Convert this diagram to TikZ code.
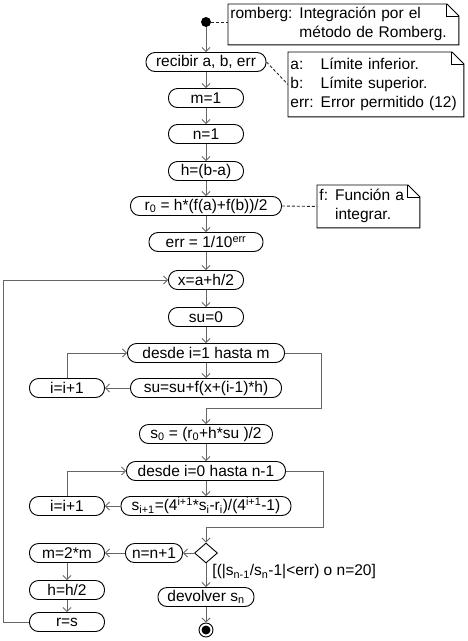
\documentclass[tikz,border=0pt]{standalone}
\usepackage{fontspec}
\setmainfont{Liberation Sans}
\usetikzlibrary{arrows.meta,shapes.geometric}

\tikzset{
  act/.style={draw, rounded corners=9pt, fill=white, minimum height=19pt, inner sep=1pt},
  flow/.style={draw=black!60, -{Straight Barb[length=4pt,width=8pt]}},
  link/.style={draw=black!85, dash pattern=on 3pt off 2pt},
  note/.style={fill=white, anchor=north west, inner xsep=2pt, inner ysep=1pt, align=left},
}
\newcommand\foldnote[1]{%
  \draw (#1.north west) -- ([xshift=-12pt]#1.north east) -- ([yshift=-12pt]#1.north east)
    -- (#1.south east) -- (#1.south west) -- cycle;
  \draw ([xshift=-12pt]#1.north east) |- ([yshift=-12pt]#1.north east);}

\begin{document}
\begin{tikzpicture}[x=1pt,y=-1pt,line width=0.9pt,font=\fontsize{15.5}{19}\selectfont]
  \useasboundingbox (0,0) rectangle (468,641);
  \node (start) [circle, fill, inner sep=0, minimum size=10pt] at (206,22) {};
  % main column
  \foreach \nm/\y/\w/\txt in {
    recv/62/120/{recibir a, b, err}, m1/98/75/{m=1}, n1/134/75/{n=1},
    h0/171/75/{h=(b-a)}, r0/206/151/{r\textsubscript{0} = h*(f(a)+f(b))/2},
    err/242/114/{err = 1/10\textsuperscript{err}}, x0/280/75/{x=a+h/2},
    su0/317/75/{su=0}, for1/353/157/{desde i=1 hasta m},
    sum/388/151/{su=su+f(x+(i-1)*h)}, s0/434/133/{s\textsubscript{0} = (r\textsubscript{0}+h*su )/2},
    for2/471/159/{desde i=0 hasta n-1},
    si/506/170/{s\textsubscript{i+1}=(4\textsuperscript{i+1}*s\textsubscript{i}-r\textsubscript{i})/(4\textsuperscript{i+1}-1)},
    dev/597/96/{devolver s\textsubscript{n}}}
    \node (\nm) [act, minimum width=\w pt] at (206,\y) {\txt};
  % left column
  \foreach \nm/\y/\txt in {inc1/388/{i=i+1}, inc2/506/{i=i+1}, m2/553/{m=2*m},
    hh/590/{h=h/2}, rs/622/{r=s}}
    \node (\nm) [act, minimum width=75pt] at (67,\y) {\txt};
  \node (nn) [act, minimum width=57pt] at (154,553) {n=n+1};
  \node (dec) [diamond, draw, fill=white, inner sep=0, minimum width=23pt, minimum height=20pt] at (206,553) {};
  \node (stop) [circle, draw, fill=white, inner sep=0, minimum size=14pt] at (206,630) {};
  \fill (stop) circle (4.5pt);
  \node (guard) [anchor=west, inner sep=0] at (212,572)
    {[(|s\textsubscript{n-1}/s\textsubscript{n}-1|<err) o n=20]};
  \coordinate (out1) at (321,408);
  \coordinate (out2) at (323,527);
  \coordinate (loop) at (3,622);

  % connectors
  \foreach \a/\b in {start/recv, recv/m1, m1/n1, n1/h0, h0/r0, r0/err, err/x0,
    x0/su0, su0/for1, for1/sum, s0/for2, for2/si, dec/dev, dev/stop,
    sum/inc1, si/inc2, dec/nn, nn/m2, m2/hh, hh/rs}
    \draw[flow] (\a) -- (\b);
  \draw[flow] (inc1) |- (for1);
  \draw[flow] (inc2) |- (for2);
  \draw[flow] (for1.east) -| (out1) -| (s0.north);
  \draw[flow] (for2.east) -| (out2) -| (dec.north);
  \draw[flow] (rs) -- (loop) |- (x0);

  % notes
  \node (nRom) [note, text width=226pt, minimum height=38pt] at (228,4)
    {\begin{tabular}{@{}l@{\hspace{7pt}}l@{}}romberg: & Integración por el\\ & método de Romberg.\end{tabular}};
  \foldnote{nRom}
  \node (nArg) [note, text width=171pt, minimum height=64pt] at (288,52)
    {\begin{tabular}{@{}l@{\hspace{7pt}}l@{}}a: & Límite inferior.\\ b: & Límite superior.\\ err: & Error permitido (12)\end{tabular}};
  \foldnote{nArg}
  \node (nFun) [note, text width=98pt, minimum height=42pt] at (317,185)
    {\begin{tabular}{@{}l@{\hspace{7pt}}l@{}}f: & Función a\\ & integrar.\end{tabular}};
  \foldnote{nFun}
  \draw[link] (start) -- (start -| nRom.west);
  \draw[link] (recv.east) -- (nArg.west);
  \draw[link] (r0.east) -- (nFun.west);
\end{tikzpicture}
\end{document}
